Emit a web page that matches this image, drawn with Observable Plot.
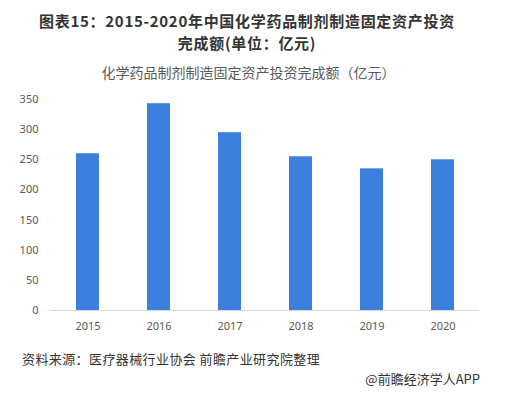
<!DOCTYPE html>
<html><head><meta charset="utf-8">
<script src="https://cdn.jsdelivr.net/npm/d3@7"></script>
<script src="https://cdn.jsdelivr.net/npm/@observablehq/plot@0.6"></script>
<style>
body{margin:0;width:507px;height:396px;background:#fff;position:relative;overflow:hidden;font-family:"Noto Sans CJK SC","Noto Sans",sans-serif;}
.title{position:absolute;left:0;width:494px;text-align:center;font-weight:bold;font-size:15px;letter-spacing:0.7px;line-height:19px;height:19px;color:#333;}
#t1{top:11px;}
#t2{top:33px;}
#sub{position:absolute;top:62px;left:0;width:497px;text-align:center;font-size:14px;color:#595959;}
#chart{position:absolute;top:85px;left:0;}
#src{position:absolute;top:349px;left:22px;font-size:13px;color:#333;letter-spacing:0.4px;}
#brand{position:absolute;top:369px;right:27px;font-size:13px;color:#333;}
</style></head>
<body>
<div class="title" id="t1">图表15：2015-2020年中国化学药品制剂制造固定资产投资</div>
<div class="title" id="t2">完成额(单位：亿元)</div>
<div id="sub">化学药品制剂制造固定资产投资完成额（亿元）</div>
<div id="chart"></div>
<div id="src">资料来源：医疗器械行业协会 前瞻产业研究院整理</div>
<div id="brand">@前瞻经济学人APP</div>
<script>
const years = ["2015","2016","2017","2018","2019","2020"];
const values = [260, 343, 295, 255, 235, 250];
const yTicks = [0,50,100,150,200,250,300,350];
const data = years.map((y,i)=>({year:y, value:values[i]}));
const chart = Plot.plot({
  width: 507, height: 250,
  marginTop: 14, marginBottom: 25, marginLeft: 50, marginRight: 28,
  style: {fontFamily: "'Noto Sans', sans-serif", fontSize: "11px", color: "#595959"},
  x: {domain: years, paddingInner: 0.68, paddingOuter: 0.34, label: null, tickSize: 0, tickPadding: 12},
  y: {domain: [0,350], ticks: yTicks, label: null, tickSize: 0, tickPadding: 12},
  marks: [
    Plot.barY(data, {x: "year", y: "value", fill: "#3d7fdc"}),
    Plot.ruleY([0], {stroke: "#d9d9d9"})
  ]
});
document.getElementById("chart").appendChild(chart);
</script>
</body></html>
